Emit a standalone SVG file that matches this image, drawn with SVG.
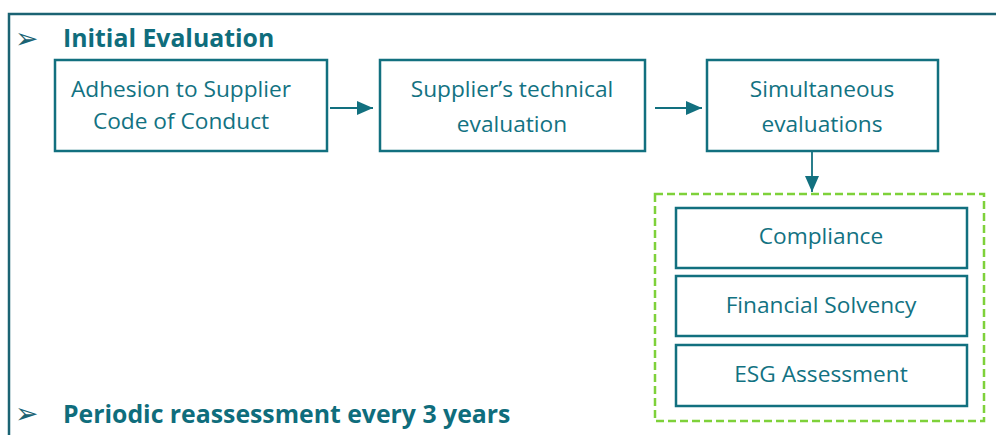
<svg xmlns="http://www.w3.org/2000/svg" width="996" height="435" viewBox="0 0 996 435">
  <style>
    .frame { fill: none; stroke: #1B6373; stroke-width: 2.5; }
    .box { fill: #FFFFFF; stroke: #12707F; stroke-width: 2.5; }
    .group { fill: none; stroke: #7ED13A; stroke-width: 2.5; stroke-dasharray: 8 4; }
    .label { font-family: "Open Sans", "Noto Sans", sans-serif; font-size: 22.7px; fill: #127282; text-anchor: middle; }
    .head { font-family: "Open Sans", "Noto Sans", sans-serif; font-size: 24.8px; font-weight: bold; fill: #0F6D7C; }
    .bullet { font-family: "DejaVu Sans", sans-serif; font-size: 28px; fill: #1B6373; }
    .conn { fill: none; stroke: #12707F; stroke-width: 1.8; }
  </style>
  <defs>
    <marker id="arrow" viewBox="0 0 16 14" refX="16" refY="7" markerWidth="16" markerHeight="14" markerUnits="userSpaceOnUse" orient="auto">
      <path d="M0,0 L16,7 L0,14 Z" fill="#12707F"/>
    </marker>
  </defs>
  <rect width="996" height="435" fill="#FFFFFF"/>

  <!-- outer frame: top and left edges -->
  <path class="frame" d="M996,14 H9 V435"/>

  <!-- section headers -->
  <g id="header-initial">
    <text class="bullet" x="15" y="48">➢</text>
    <text class="head" x="63" y="47">Initial Evaluation</text>
  </g>
  <g id="header-periodic">
    <text class="bullet" x="15" y="423">➢</text>
    <text class="head" x="63" y="423">Periodic reassessment every 3 years</text>
  </g>

  <!-- process steps -->
  <g id="step-adhesion">
    <rect class="box" x="55" y="60" width="272" height="91"/>
    <text class="label" x="181" y="97">Adhesion to Supplier</text>
    <text class="label" x="181" y="129">Code of Conduct</text>
  </g>
  <g id="step-technical">
    <rect class="box" x="380" y="60" width="265" height="91"/>
    <text class="label" x="512" y="97">Supplier’s technical</text>
    <text class="label" x="512" y="132">evaluation</text>
  </g>
  <g id="step-simultaneous">
    <rect class="box" x="707" y="60" width="231" height="91"/>
    <text class="label" x="822" y="97">Simultaneous</text>
    <text class="label" x="822" y="132">evaluations</text>
  </g>

  <!-- parallel evaluations -->
  <g id="parallel-group">
    <rect class="group" x="655" y="194" width="329" height="227"/>
  </g>
  <g id="eval-compliance">
    <rect class="box" x="676" y="208" width="291" height="60"/>
    <text class="label" x="821" y="244">Compliance</text>
  </g>
  <g id="eval-financial">
    <rect class="box" x="676" y="276" width="291" height="60"/>
    <text class="label" x="821" y="313">Financial Solvency</text>
  </g>
  <g id="eval-esg">
    <rect class="box" x="676" y="345" width="291" height="61"/>
    <text class="label" x="821" y="382">ESG Assessment</text>
  </g>

  <!-- connectors -->
  <g id="connectors">
    <line class="conn" x1="330" y1="108" x2="373" y2="108" marker-end="url(#arrow)"/>
    <line class="conn" x1="655" y1="108" x2="702" y2="108" marker-end="url(#arrow)"/>
    <line class="conn" x1="812" y1="152" x2="812" y2="192" marker-end="url(#arrow)"/>
  </g>
</svg>
